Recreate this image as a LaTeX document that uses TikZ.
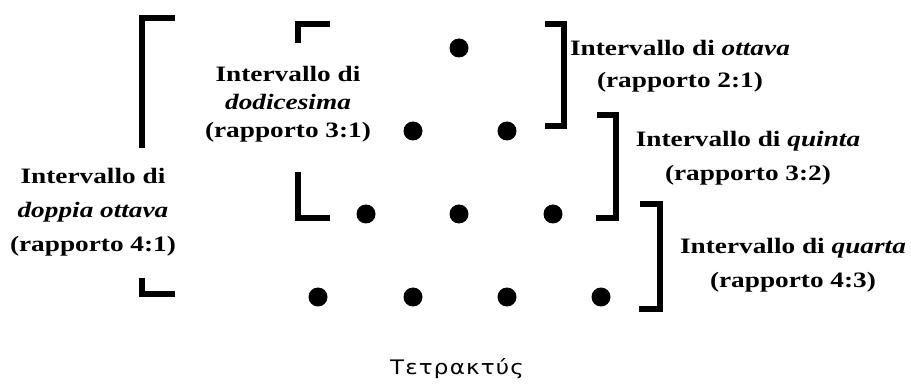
\documentclass[tikz,border=0pt]{standalone}
\usepackage{fontspec}
\setmainfont{Liberation Serif}[FakeStretch=1.24]
\newfontfamily\greekfont{DejaVu Sans}[FakeStretch=1.15,LetterSpace=6]
\begin{document}
\begin{tikzpicture}[x=1pt,y=-1pt,
  dot/.style={circle,fill=black,inner sep=0pt,minimum size=19pt},
  brk/.style={line width=6pt,line join=miter,line cap=butt},
  lbl/.style={align=center,inner sep=0pt,font=\bfseries\fontsize{22}{34}\selectfont}]
\useasboundingbox (0,0) rectangle (911,390);
% dots
\node[dot] (d1) at (459,48) {};
\node[dot] (d21) at (413,131) {};
\node[dot] (d22) at (507,131) {};
\node[dot] (d31) at (366,214) {};
\node[dot] (d32) at (459,214) {};
\node[dot] (d33) at (553,214) {};
\node[dot] (d41) at (318,297) {};
\node[dot] (d42) at (413,297) {};
\node[dot] (d43) at (507,297) {};
\node[dot] (d44) at (601,297) {};
% left big bracket
\draw[brk] (175,18.5) -- (142,18.5) -- (142,148);
\draw[brk] (142,278) -- (142,294.5) -- (175,294.5);
% dodicesima bracket
\draw[brk] (330,24.5) -- (297.5,24.5) -- (297.5,43);
\draw[brk] (297.5,172) -- (297.5,218) -- (330,218);
% right brackets
\draw[brk] (545,24.5) -- (563.5,24.5) -- (563.5,126) -- (545,126);
\draw[brk] (597,115.5) -- (615.5,115.5) -- (615.5,218) -- (596,218);
\draw[brk] (640,204.5) -- (659.5,204.5) -- (659.5,309.5) -- (639,309.5);
% labels
\node[lbl,font=\bfseries\fontsize{22}{28}\selectfont] (ldod) at (288,104) {Intervallo di\\\textit{dodicesima}\\(rapporto 3:1)};
\node[lbl] (ldop) at (93,212) {Intervallo di\\\textit{doppia ottava}\\(rapporto 4:1)};
\node[lbl,font=\bfseries\fontsize{22}{32}\selectfont] (lott) at (680,66) {Intervallo di \textit{ottava}\\(rapporto 2:1)};
\node[lbl] (lqui) at (748,158) {Intervallo di \textit{quinta}\\(rapporto 3:2)};
\node[lbl] (lqua) at (793,265) {Intervallo di \textit{quarta}\\(rapporto 4:3)};
\node[inner sep=0pt,font=\greekfont\fontsize{20}{22}\selectfont] (title) at (457,369) {Τετρακτύς};
\end{tikzpicture}
\end{document}
